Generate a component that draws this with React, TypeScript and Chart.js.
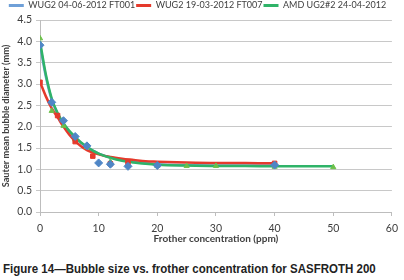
import React, { useEffect, useRef } from "react";
import { Chart, registerables } from "chart.js";

Chart.register(...registerables);

const seriesNames = ["WUG2 04-06-2012 FT001", "WUG2 19-03-2012 FT007", "AMD UG2#2 24-04-2012"];

const blueX = [0, 2, 4, 6, 8, 10, 12, 15, 20, 40];
const blueY = [3.91, 2.57, 2.14, 1.77, 1.55, 1.15, 1.12, 1.07, 1.09, 1.1];

const redX = [0, 3, 6, 9, 12, 15, 40];
const redY = [3.04, 2.26, 1.65, 1.31, 1.13, 1.16, 1.14];

const greenX = [0, 2, 4, 6, 8, 12, 15, 20, 25, 30, 40, 50];
const greenY = [4.07, 2.37, 2.02, 1.7, 1.52, 1.18, 1.09, 1.08, 1.08, 1.08, 1.06, 1.05];

const trendX = [0, 1, 2, 3, 4, 5, 6, 7, 8, 9, 10, 12, 14, 16, 18, 20, 25, 30, 35, 40, 45, 50];
const blueTrend = [3.92, 3.17, 2.63, 2.3, 2.06, 1.88, 1.74, 1.62, 1.52, 1.44, 1.37, 1.28, 1.21, 1.17, 1.14, 1.12, 1.1, 1.09, 1.09, 1.09];
const redTrend = [3.05, 2.71, 2.43, 2.22, 2.0, 1.81, 1.66, 1.54, 1.45, 1.39, 1.35, 1.29, 1.25, 1.22, 1.19, 1.18, 1.16, 1.15, 1.15, 1.14];
const greenTrend = [4.0, 3.22, 2.66, 2.32, 2.08, 1.9, 1.76, 1.63, 1.53, 1.44, 1.37, 1.27, 1.2, 1.16, 1.13, 1.11, 1.09, 1.08, 1.08, 1.07, 1.07, 1.07];

const xTitle = "Frother concentration (ppm)";
const yTitle = "Sauter mean bubble diameter (mm)";
const caption = "Figure 14\u2014Bubble size vs. frother concentration for SASFROTH 200";

const BLUE = "#4f86c6";
const BLUE_LINE = "#6fa0d8";
const RED = "#e53a2c";
const GREEN = "#2fb368";
const GREEN_MARK = "#6cc04a";

const pts = (xs: number[], ys: number[]) => ys.map((y, i) => ({ x: xs[i], y }));

export default function App() {
  const ref = useRef<HTMLCanvasElement>(null);
  useEffect(() => {
    document.body.style.margin = "0";
    const ctx = ref.current!;
    const font = "Lato";
    const chart = new Chart(ctx, {
      type: "scatter",
      data: {
        datasets: [
          { label: seriesNames[0] + " pts", data: pts(blueX, blueY), backgroundColor: BLUE, borderColor: BLUE, pointStyle: "rectRot", pointRadius: 4, showLine: false, order: 0 },
          { label: seriesNames[1] + " pts", data: pts(redX, redY), backgroundColor: RED, borderColor: RED, pointStyle: "rect", pointRadius: 3.2, showLine: false, order: 1 },
          { label: seriesNames[2] + " pts", data: pts(greenX, greenY), backgroundColor: GREEN_MARK, borderColor: GREEN_MARK, pointStyle: "triangle", pointRadius: 3, showLine: false, order: 2 },
          { label: seriesNames[0], data: pts(trendX, blueTrend), borderColor: BLUE_LINE, backgroundColor: BLUE_LINE, borderWidth: 2.5, pointRadius: 0, showLine: true, cubicInterpolationMode: "monotone", order: 5 },
          { label: seriesNames[1], data: pts(trendX, redTrend), borderColor: RED, backgroundColor: RED, borderWidth: 2.5, pointRadius: 0, showLine: true, cubicInterpolationMode: "monotone", order: 4 },
          { label: seriesNames[2], data: pts(trendX, greenTrend), borderColor: GREEN, backgroundColor: GREEN, borderWidth: 2.5, pointRadius: 0, showLine: true, cubicInterpolationMode: "monotone", order: 3 },
        ],
      },
      options: {
        animation: false,
        responsive: false,
        layout: { padding: { top: 0, right: 9, left: 0, bottom: 0 } },
        plugins: {
          tooltip: { enabled: false },
          legend: {
            position: "top",
            labels: {
              font: { family: font, size: 9 },
              color: "#404040",
              usePointStyle: true,
              pointStyle: "line",
              pointStyleWidth: 15,
              boxHeight: 9,
              padding: 1,
              filter: (item) => !String(item.text).endsWith(" pts"),
              generateLabels: (c) =>
                c.data.datasets.map((d: any, i: number) => ({
                  text: d.label,
                  strokeStyle: d.borderColor,
                  fillStyle: d.borderColor,
                  lineWidth: 3,
                  pointStyle: "line",
                  datasetIndex: i,
                  hidden: false,
                  fontColor: "#404040",
                })),
            },
          },
        },
        scales: {
          x: {
            type: "linear",
            min: 0,
            max: 60,
            ticks: { stepSize: 10, color: "#404040", font: { family: font, size: 10.5 }, padding: 6 },
            grid: { drawOnChartArea: false, drawTicks: true, tickLength: 4, color: "#bdbdbd" },
            border: { color: "#bdbdbd" },
            title: { display: true, text: xTitle, color: "#404040", font: { family: font, size: 10, weight: "bold" }, padding: 0 },
            afterFit: (s: any) => { s.height = 33; },
          },
          y: {
            min: 0,
            max: 4.5,
            ticks: { stepSize: 0.5, color: "#404040", font: { family: font, size: 10.5 }, padding: 4, callback: (v: any) => Number(v).toFixed(1) },
            grid: { color: "#c8c8c8", tickLength: 4 },
            border: { color: "#bdbdbd" },
            title: { display: true, text: yTitle, color: "#404040", font: { family: font, size: 9.2, weight: "bold" }, padding: { top: 1, bottom: 0 } },
            afterFit: (s: any) => { s.width = 40; },
          },
        },
      },
    });
    return () => chart.destroy();
  }, []);
  return (
    <div style={{ position: "fixed", left: 0, top: 0, width: 404, height: 280, background: "#fff" }}>
      <canvas ref={ref} width={404} height={245} style={{ display: "block", width: 404, height: 245 }} />
      <div
        style={{
          position: "absolute",
          left: 3,
          top: 261,
          fontFamily: "'Liberation Sans', Arial, sans-serif",
          fontWeight: "bold",
          fontSize: 13,
          color: "#222",
          whiteSpace: "nowrap",
          transformOrigin: "left top",
          transform: "scaleX(0.885)",
        }}
      >
        {caption}
      </div>
    </div>
  );
}
